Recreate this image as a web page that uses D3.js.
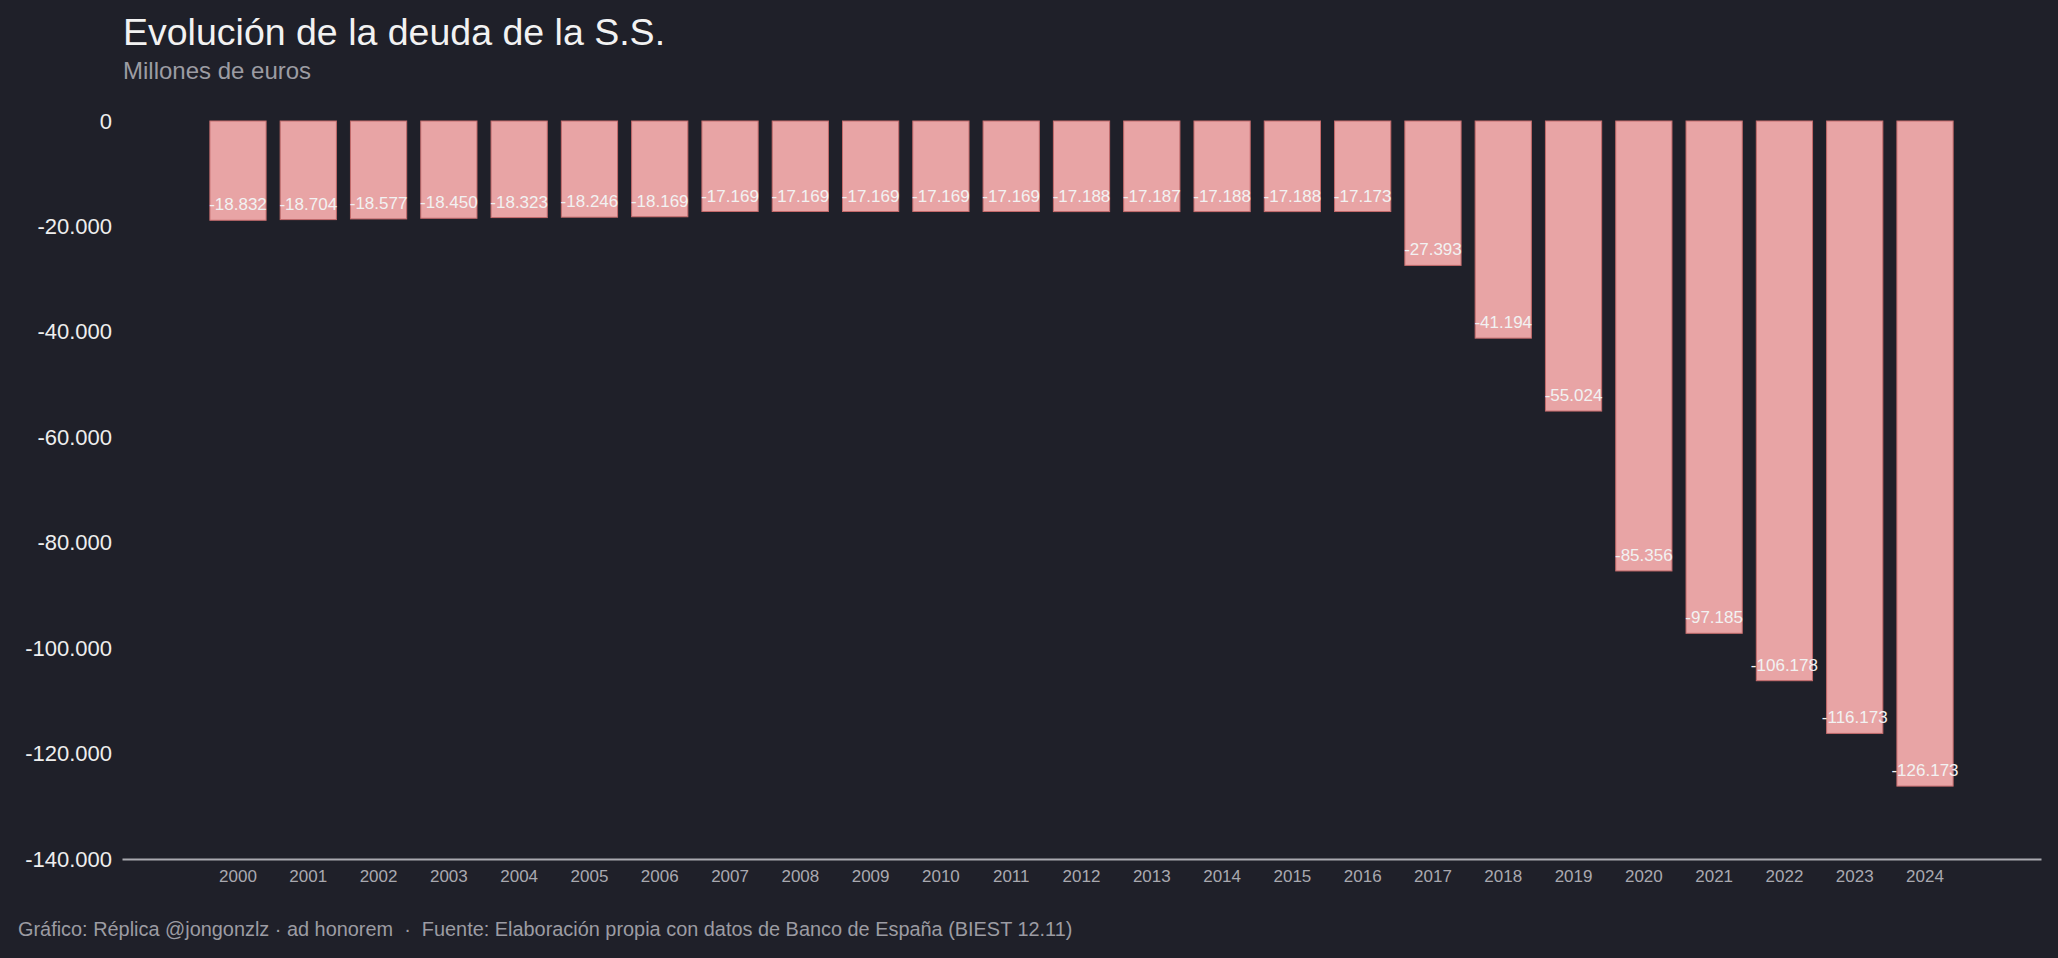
<!DOCTYPE html>
<html>
<head>
<meta charset="utf-8">
<script src="https://cdn.jsdelivr.net/npm/d3@7"></script>
<style>
  html, body { margin: 0; padding: 0; background: #1f2029; }
  svg { display: block; font-family: "Liberation Sans", Arial, Helvetica, sans-serif; }
</style>
</head>
<body>
<div id="chart"></div>
<script>
// Datos: deuda de la Seguridad Social, millones de euros
const years = ["2000", "2001", "2002", "2003", "2004", "2005", "2006", "2007", "2008", "2009",
    "2010", "2011", "2012", "2013", "2014", "2015", "2016", "2017", "2018", "2019",
    "2020", "2021", "2022", "2023", "2024"];
const deuda = [-18832, -18704, -18577, -18450, -18323, -18246, -18169, -17169, -17169, -17169,
    -17169, -17169, -17188, -17187, -17188, -17188, -17173, -27393, -41194, -55024,
    -85356, -97185, -106178, -116173, -126173];
const yTicks = [0, -20000, -40000, -60000, -80000, -100000, -120000, -140000];

const title = "Evolución de la deuda de la S.S.";
const subtitle = "Millones de euros";
const footer = "Gráfico: Réplica @jongonzlz · ad honorem  ·  Fuente: Elaboración propia con datos de Banco de España (BIEST 12.11)";

const width = 2058, height = 958;
const margin = { top: 121, right: 17, bottom: 99, left: 122 };
const h = height - margin.top - margin.bottom;

const es = d3.formatLocale({ decimal: ",", thousands: ".", grouping: [3], currency: ["", " €"], minus: "-" });
const fmt = es.format(",d");

const svg = d3.select("#chart")
    .append("svg")
    .attr("width", width)
    .attr("height", height);

svg.append("rect")
    .attr("width", width)
    .attr("height", height)
    .attr("fill", "#1f2029");

// Scales
const x = d3.scaleBand()
    .domain(years)
    .range([margin.left, width - margin.right])
    .paddingInner(0.2)
    .paddingOuter(1.25);

const y = d3.scaleLinear()
    .domain([0, -140000])
    .range([margin.top, margin.top + h]);

// Y axis (labels only)
const yAxis = svg.append("g")
    .attr("transform", "translate(" + margin.left + ",0)")
    .call(d3.axisLeft(y).tickValues(yTicks).tickFormat(fmt).tickSize(0).tickPadding(10));
yAxis.select(".domain").remove();
yAxis.selectAll("text")
    .attr("fill", "#eeeeee")
    .style("font-size", "22px");

// X axis
const xAxis = svg.append("g")
    .attr("transform", "translate(0," + (margin.top + h) + ")")
    .call(d3.axisBottom(x).tickSize(0).tickSizeOuter(0).tickPadding(11));
xAxis.select(".domain")
    .attr("stroke", "#a9a9b0")
    .attr("stroke-width", 2);
xAxis.selectAll("text")
    .attr("fill", "#a9a9b0")
    .style("font-size", "17px");

// Bars
svg.selectAll("rect.bar")
    .data(years)
    .join("rect")
    .classed("bar", true)
    .attr("x", d => x(d))
    .attr("width", x.bandwidth())
    .attr("y", y(0))
    .attr("height", (d, i) => y(deuda[i]) - y(0))
    .attr("fill", "#e8a4a5")
    .attr("stroke", "#c46b6c")
    .attr("stroke-width", 1);

// Value labels
svg.selectAll("text.val")
    .data(years)
    .join("text")
    .classed("val", true)
    .attr("x", d => x(d) + x.bandwidth() / 2)
    .attr("y", (d, i) => y(deuda[i]) - 10)
    .attr("text-anchor", "middle")
    .attr("fill", "#f2f2f2")
    .style("font-size", "17px")
    .text((d, i) => fmt(deuda[i]));

// Titles
svg.append("text")
    .attr("x", 123)
    .attr("y", 45)
    .attr("fill", "#f2f2f2")
    .style("font-size", "37.5px")
    .text(title);

svg.append("text")
    .attr("x", 123)
    .attr("y", 79)
    .attr("fill", "#9c9ca3")
    .style("font-size", "24px")
    .text(subtitle);

svg.append("text")
    .attr("x", 18)
    .attr("y", 936)
    .attr("fill", "#9c9ca3")
    .style("font-size", "19.9px")
    .style("white-space", "pre")
    .attr("xml:space", "preserve")
    .text(footer);
</script>
</body>
</html>
